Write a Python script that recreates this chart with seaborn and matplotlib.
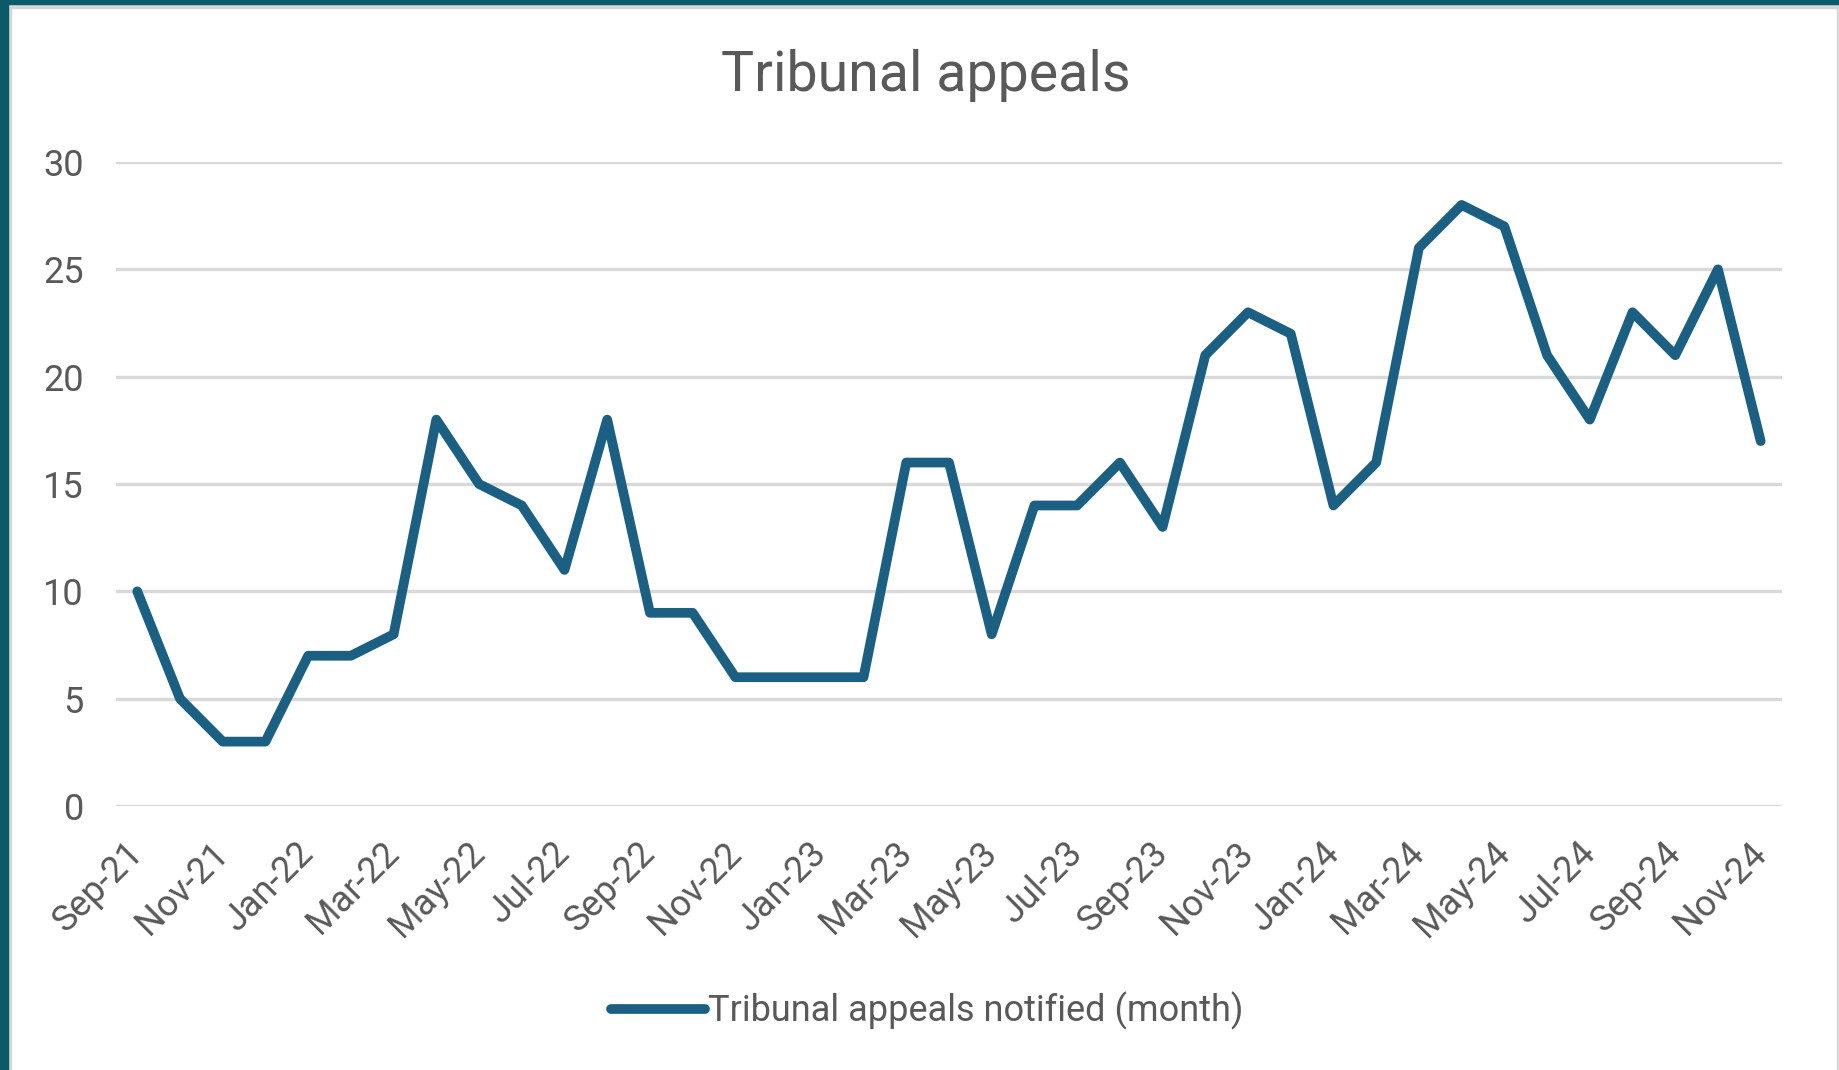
import numpy as np
import pandas as pd
import seaborn as sns
import matplotlib.pyplot as plt
from matplotlib.patches import Rectangle

months = ["Sep-21", "Oct-21", "Nov-21", "Dec-21", "Jan-22", "Feb-22", "Mar-22", "Apr-22",
          "May-22", "Jun-22", "Jul-22", "Aug-22", "Sep-22", "Oct-22", "Nov-22", "Dec-22",
          "Jan-23", "Feb-23", "Mar-23", "Apr-23", "May-23", "Jun-23", "Jul-23", "Aug-23",
          "Sep-23", "Oct-23", "Nov-23", "Dec-23", "Jan-24", "Feb-24", "Mar-24", "Apr-24",
          "May-24", "Jun-24", "Jul-24", "Aug-24", "Sep-24", "Oct-24", "Nov-24"]
appeals = [10, 5, 3, 3, 7, 7, 8, 18, 15, 14, 11, 18, 9, 9, 6, 6,
           6, 6, 16, 16, 8, 14, 14, 16, 13, 21, 23, 22, 14, 16, 26, 28,
           27, 21, 18, 23, 21, 25, 17]
series_name = "Tribunal appeals notified (month)"
yticks = [0, 5, 10, 15, 20, 25, 30]

df = pd.DataFrame({"pos": np.arange(len(months)), "month": months, "appeals": appeals})

sns.set_style("white")
plt.rcParams["font.family"] = ["Roboto", "DejaVu Sans"]
grey = "#595959"
line_col = "#1B6083"

fig = plt.figure(figsize=(18.4, 10.7), dpi=100)
ax = fig.add_axes([0.063, 0.2467, 0.9055, 0.6019])

sns.lineplot(data=df, x="pos", y="appeals", ax=ax, color=line_col, linewidth=7,
             label=series_name, legend=False, sort=False,
             solid_joinstyle="round", solid_capstyle="round")

ax.set_xlim(-0.5, len(months) - 0.5)
ax.set_ylim(0, 30)
ax.set_yticks(yticks)
ax.set_yticklabels([str(v) for v in yticks], fontsize=26, color=grey)
ax.set_xticks(df["pos"][::2])
ax.set_xticklabels(df["month"][::2], fontsize=26, color=grey, rotation=45,
                   ha="right", va="center", rotation_mode="anchor")
ax.tick_params(axis="x", length=0, pad=30)
ax.tick_params(axis="y", length=0, pad=23)
ax.grid(axis="y", color="#D9D9D9", linewidth=2.4)
ax.set_axisbelow(True)
ax.set_xlabel("")
ax.set_ylabel("")
for s in ax.spines.values():
    s.set_visible(False)

fig.text(0.503, 0.929, "Tribunal appeals", fontsize=40, color=grey, ha="center", va="center")

handles, labels = ax.get_legend_handles_labels()
fig.legend(handles, labels, loc="center", bbox_to_anchor=(0.504, 0.055), frameon=False,
           fontsize=26, labelcolor=grey, handlelength=2.6, handletextpad=0.1)

# window frame
fig.patches.append(Rectangle((0, 0), 0.0045, 1, transform=fig.transFigure, color="#0B5A68", zorder=10))
fig.patches.append(Rectangle((0, 0.996), 1, 0.004, transform=fig.transFigure, color="#0B5A68", zorder=10))
fig.patches.append(Rectangle((0.0045, 0), 0.0015, 0.996, transform=fig.transFigure, color="#D6D6D6", zorder=9))
fig.patches.append(Rectangle((0.0045, 0.9925), 0.9955, 0.0035, transform=fig.transFigure, color="#D6D6D6", zorder=9))
fig.patches.append(Rectangle((0.9985, 0), 0.0015, 0.996, transform=fig.transFigure, color="#D6D6D6", zorder=9))

fig.savefig("out.png", dpi=100)
